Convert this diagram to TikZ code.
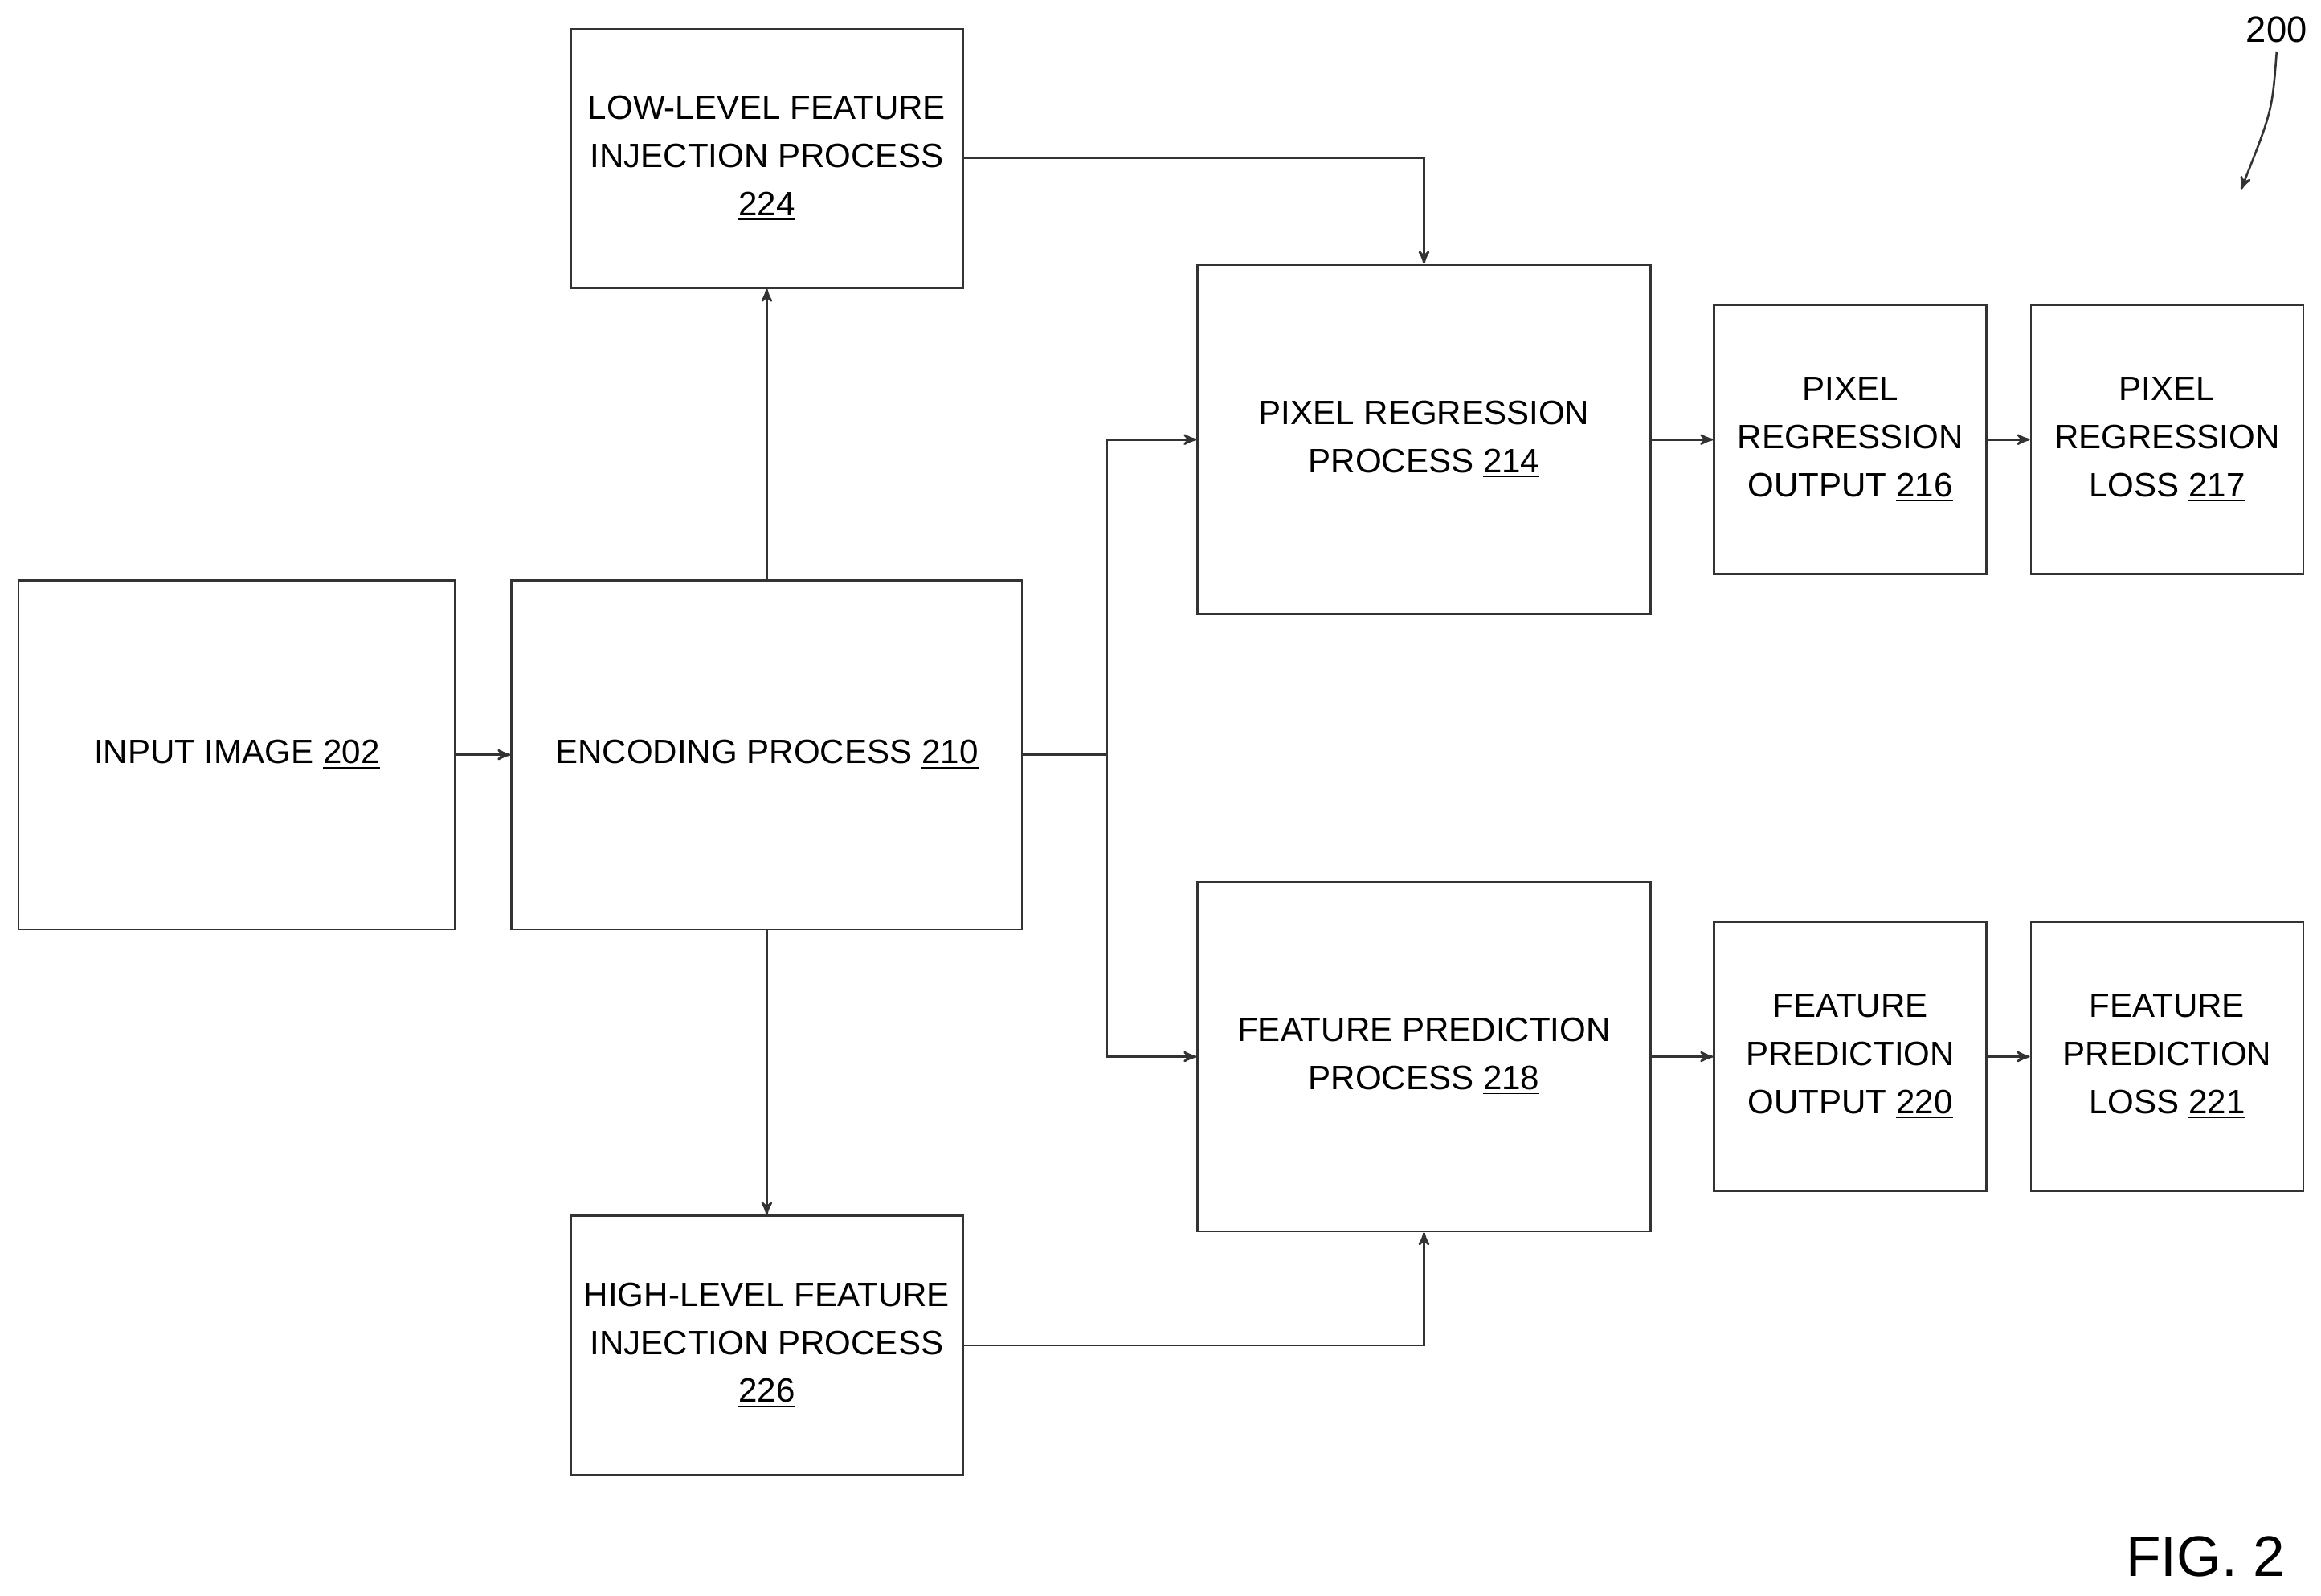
\documentclass[tikz,border=0pt]{standalone}
\usepackage{fontspec}
\setmainfont{Liberation Sans}
\usetikzlibrary{positioning,arrows}
\begin{document}
\begin{tikzpicture}[x=0.02cm,y=-0.02cm,>=stealth',thick]
  \useasboundingbox (0,0) rectangle (1568,1078);
  \tikzset{
    process/.style={rectangle,draw=black!80,align=center,inner sep=0pt,
      font=\fontsize{13}{18.5}\selectfont},
    bigBox/.style={process,minimum width=6.12cm,minimum height=4.72cm},
    injBox/.style={process,minimum width=5.3cm,minimum height=3.5cm},
    outBox/.style={process,minimum width=3.68cm,minimum height=3.64cm},
    flow/.style={->,draw=black!80}
  }

  %%% left part
  \node[process,minimum width=5.9cm,minimum height=4.72cm] (input) at (160,510) {INPUT IMAGE \underline{202}};
  \node[process,minimum width=6.9cm,minimum height=4.72cm] (enc) at (518,510) {ENCODING PROCESS \underline{210}};
  \node[injBox] (low) at (518,107) {LOW-LEVEL FEATURE\\INJECTION PROCESS\\\underline{224}};
  \node[injBox] (high) at (518,909) {HIGH-LEVEL FEATURE\\INJECTION PROCESS\\\underline{226}};

  %%% regression / prediction
  \node[bigBox] (pixreg) at (962,297) {PIXEL REGRESSION\\PROCESS \underline{214}};
  \node[bigBox] (featpred) at (962,714) {FEATURE PREDICTION\\PROCESS \underline{218}};

  \node[outBox] (pixout) at (1250,297) {PIXEL\\REGRESSION\\OUTPUT \underline{216}};
  \node[outBox] (pixloss) at (1464,297) {PIXEL\\REGRESSION\\LOSS \underline{217}};
  \node[outBox] (featout) at (1250,714) {FEATURE\\PREDICTION\\OUTPUT \underline{220}};
  \node[outBox] (featloss) at (1464,714) {FEATURE\\PREDICTION\\LOSS \underline{221}};

  \coordinate (split) at (748,510);

  % connectors
  \draw[flow] (input) -- (enc);
  \draw[flow] (enc) -- (low);
  \draw[flow] (enc) -- (high);
  \draw[draw=black!80] (enc.east) -- (split);
  \draw[flow] (split) |- (pixreg.west);
  \draw[flow] (split) |- (featpred.west);
  \draw[flow] (low.east) -| (pixreg.north);
  \draw[flow] (high.east) -| (featpred.south);
  \draw[flow] (pixreg) -- (pixout);
  \draw[flow] (pixout) -- (pixloss);
  \draw[flow] (featpred) -- (featout);
  \draw[flow] (featout) -- (featloss);

  % figure labels
  \node[font=\fontsize{14}{16}\selectfont] (ref) at (1538,20) {200};
  \coordinate (refend) at (1514,128);
  \draw[->,draw=black!80] (ref.south) .. controls (1535,75) .. (refend);
  \node[font=\fontsize{22}{24}\selectfont] (fig) at (1490,1052) {FIG. 2};
\end{tikzpicture}
\end{document}
